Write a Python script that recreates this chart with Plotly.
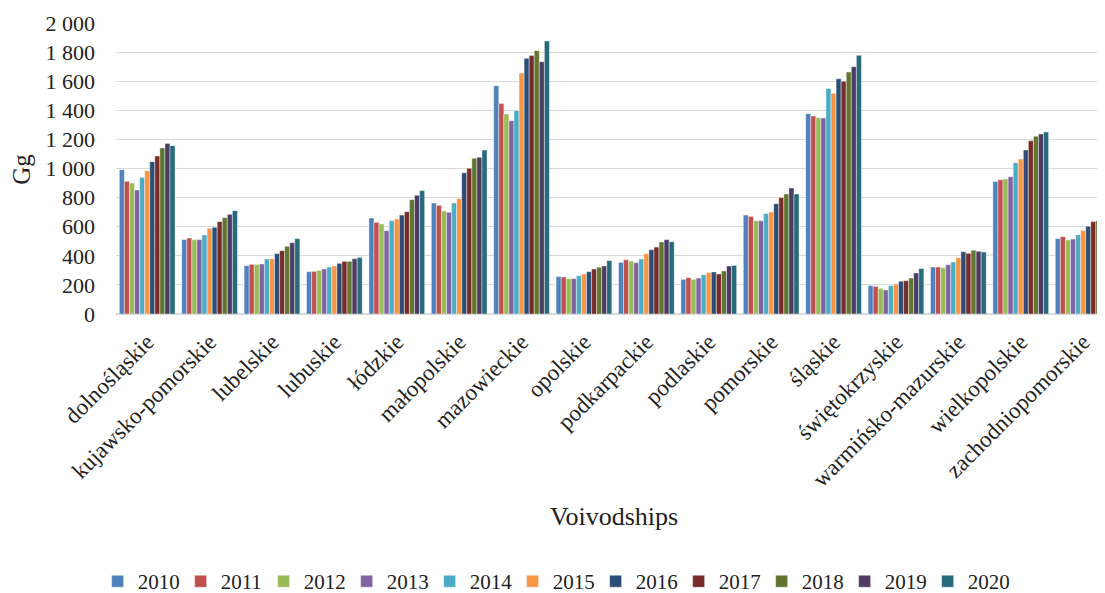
import plotly.graph_objects as go

voivodships = ["dolnośląskie", "kujawsko-pomorskie", "lubelskie", "lubuskie", "łódzkie",
               "małopolskie", "mazowieckie", "opolskie", "podkarpackie", "podlaskie",
               "pomorskie", "śląskie", "świętokrzyskie", "warmińsko-mazurskie",
               "wielkopolskie", "zachodniopomorskie"]

years = ["2010", "2011", "2012", "2013", "2014", "2015", "2016", "2017", "2018", "2019", "2020"]

# values per voivodship, one entry per year 2010..2020 (Gg)
dolnoslaskie = [992, 912, 900, 852, 939, 985, 1047, 1086, 1141, 1171, 1157]
kujawsko_pomorskie = [511, 522, 511, 511, 543, 589, 596, 635, 662, 685, 710]
lubelskie = [332, 341, 341, 344, 378, 380, 415, 435, 465, 490, 518]
lubuskie = [291, 293, 300, 309, 323, 330, 348, 362, 362, 380, 389]
lodzkie = [660, 630, 619, 573, 641, 653, 680, 703, 786, 816, 848]
malopolskie = [763, 747, 708, 699, 763, 793, 971, 1001, 1070, 1077, 1127]
mazowieckie = [1569, 1446, 1375, 1329, 1398, 1656, 1757, 1776, 1810, 1734, 1876]
opolskie = [257, 254, 243, 243, 263, 275, 291, 309, 321, 330, 367]
podkarpackie = [355, 373, 364, 353, 378, 415, 442, 460, 495, 511, 497]
podlaskie = [238, 250, 238, 247, 270, 284, 289, 275, 296, 330, 334]
pomorskie = [680, 671, 641, 641, 690, 701, 758, 800, 825, 866, 825]
slaskie = [1377, 1361, 1349, 1347, 1549, 1517, 1617, 1599, 1663, 1700, 1778]
swietokrzyskie = [195, 190, 176, 165, 195, 206, 225, 229, 247, 282, 312]
warminsko_mazurskie = [323, 323, 318, 339, 357, 387, 428, 417, 438, 431, 426]
wielkopolskie = [910, 923, 928, 944, 1040, 1065, 1127, 1191, 1221, 1237, 1251]
zachodniopomorskie = [518, 532, 509, 515, 545, 573, 603, 635, 641, 660, 665]

rows = [dolnoslaskie, kujawsko_pomorskie, lubelskie, lubuskie, lodzkie, malopolskie,
        mazowieckie, opolskie, podkarpackie, podlaskie, pomorskie, slaskie,
        swietokrzyskie, warminsko_mazurskie, wielkopolskie, zachodniopomorskie]

colors = ["#4F81BD", "#C0504D", "#9BBB59", "#8064A2", "#4BACC6", "#F79646",
          "#2C4D75", "#772C2A", "#5F7530", "#4D3B62", "#276A7C"]

FONT = "Liberation Serif, Times New Roman, serif"

fig = go.Figure()
for i, y in enumerate(years):
    fig.add_trace(go.Bar(
        name=y,
        x=voivodships,
        y=[r[i] for r in rows],
        marker=dict(color=colors[i], line=dict(color="rgba(255,255,255,0.7)", width=0.6)),
    ))

fig.update_layout(
    width=1097, height=585,
    barmode="group", bargap=0.107, bargroupgap=0.0,
    plot_bgcolor="white", paper_bgcolor="white",
    separators=". ",
    font=dict(family=FONT, size=22, color="#222222"),
    margin=dict(l=108, r=0, t=15, b=278.5, pad=0, autoexpand=False),
    legend=dict(orientation="h", x=0.443, xanchor="center", y=-0.99, yanchor="bottom",
                font=dict(size=21), itemwidth=30, traceorder="normal",
                entrywidth=38, entrywidthmode="pixels"),
    xaxis=dict(range=[-0.5, 15.35], tickangle=-45, showgrid=False, automargin=False,
               showline=False, zeroline=False, ticks="", tickfont=dict(size=23),
               ticklabelstandoff=9),
    yaxis=dict(range=[0, 2000], tick0=0, dtick=200, tickformat=",", automargin=False,
               showgrid=True, gridcolor="#D9D9D9", gridwidth=1.4,
               zeroline=True, zerolinecolor="#D9D9D9", zerolinewidth=1.6,
               showline=False, ticks="", ticklabelstandoff=20),
    annotations=[
        dict(text="Voivodships", xref="paper", yref="paper", x=0.5035, y=-0.695,
             xanchor="center", yanchor="middle", showarrow=False, font=dict(size=26)),
        dict(text="Gg", xref="paper", yref="paper", x=-0.095, y=0.496, textangle=-90,
             xanchor="center", yanchor="middle", showarrow=False, font=dict(size=25)),
    ],
)

fig.write_html("out.html")
